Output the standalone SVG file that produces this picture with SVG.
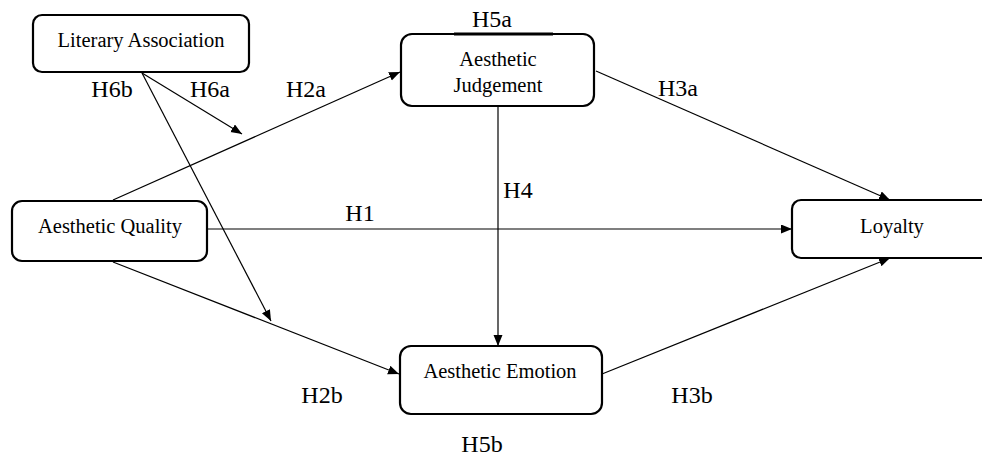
<svg xmlns="http://www.w3.org/2000/svg" width="982" height="458" viewBox="0 0 982 458">
<defs>
<style>
.box{fill:#fff;stroke:#000;stroke-width:2.2}
.nt{font-family:'Liberation Serif',serif;font-size:20.5px;fill:#000;text-anchor:middle}
.lb{font-family:'Liberation Serif',serif;font-size:24px;fill:#000;text-anchor:middle}
.ln{stroke:#000;stroke-width:1.2;fill:none}
</style>
<marker id="ah" markerUnits="userSpaceOnUse" markerWidth="12" markerHeight="10" refX="11" refY="4.5" orient="auto">
<path d="M0,0 L11,4.5 L0,9 z" fill="#000"/>
</marker>
</defs>
<rect width="982" height="458" fill="#fff"/>
<g id="connectors">
<line class="ln" x1="207" y1="229" x2="792" y2="229" marker-end="url(#ah)"/>
<line class="ln" x1="596" y1="71" x2="890" y2="200" marker-end="url(#ah)"/>
<line class="ln" x1="602" y1="374" x2="890" y2="258" marker-end="url(#ah)"/>
<line class="ln" x1="498" y1="107" x2="498" y2="346" marker-end="url(#ah)"/>
<line class="ln" x1="113" y1="200" x2="400" y2="72" marker-end="url(#ah)"/>
<line class="ln" x1="113" y1="262" x2="399" y2="374" marker-end="url(#ah)"/>
<line class="ln" x1="142" y1="73" x2="242" y2="134" marker-end="url(#ah)"/>
<line class="ln" x1="142" y1="73" x2="271" y2="321" marker-end="url(#ah)"/>
</g>
<g id="literary-association">
<rect class="box" x="33" y="15" width="216" height="57" rx="9"/>
<text class="nt" x="141" y="47" font-family="Liberation Serif, serif">Literary Association</text>
</g>
<g id="aesthetic-judgement">
<rect class="box" x="401" y="34" width="193" height="72" rx="11"/>
<line x1="454" y1="34" x2="553" y2="34" stroke="#000" stroke-width="3"/>
<text class="nt" x="498" y="66" font-family="Liberation Serif, serif">Aesthetic</text>
<text class="nt" x="498" y="92" font-family="Liberation Serif, serif">Judgement</text>
</g>
<g id="aesthetic-quality">
<rect class="box" x="12" y="201" width="195" height="60" rx="10"/>
<text class="nt" x="110" y="233" font-family="Liberation Serif, serif">Aesthetic Quality</text>
</g>
<g id="aesthetic-emotion">
<rect class="box" x="400" y="346" width="202" height="68" rx="11"/>
<text class="nt" x="500" y="378" font-family="Liberation Serif, serif">Aesthetic Emotion</text>
</g>
<g id="loyalty">
<rect class="box" x="792" y="200" width="200" height="58" rx="9"/>
<text class="nt" x="892" y="233" font-family="Liberation Serif, serif">Loyalty</text>
</g>
<g id="labels" font-family="Liberation Serif, serif">
<text class="lb" x="492" y="27">H5a</text>
<text class="lb" x="112" y="97">H6b</text>
<text class="lb" x="210" y="97">H6a</text>
<text class="lb" x="306" y="97">H2a</text>
<text class="lb" x="678" y="96">H3a</text>
<text class="lb" x="518" y="198">H4</text>
<text class="lb" x="360" y="221">H1</text>
<text class="lb" x="322" y="403">H2b</text>
<text class="lb" x="692" y="403">H3b</text>
<text class="lb" x="482" y="452">H5b</text>
</g>
</svg>
